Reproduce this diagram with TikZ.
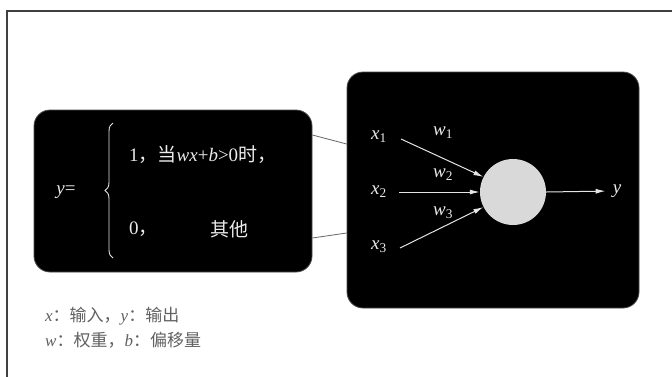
\documentclass[tikz,border=0pt]{standalone}
\usepackage{fontspec}
\setmainfont{Liberation Serif}
\newfontfamily\cjk{Noto Sans CJK SC}
\usetikzlibrary{arrows.meta,decorations.pathreplacing}
\tikzset{
  blackbox/.style={fill=black,draw=black!70,line width=0.8pt,rounded corners=16pt,inner sep=0pt},
  wtext/.style={text=white!92!black,font=\fontsize{19}{22}\selectfont,inner sep=1pt},
  sig/.style={draw=white!90!black,line width=1pt,-{Latex[length=10pt,width=5pt]}},
  link/.style={draw=black!60,line width=0.8pt},
  note/.style={text=black!62,font=\fontsize{17}{20}\selectfont,anchor=west,inner sep=0pt}
}
\begin{document}
\begin{tikzpicture}[x=1pt,y=-1pt]
\useasboundingbox (0,0) rectangle (672,376);
\clip (0,0) rectangle (672,376);
\fill[white] (0,0) rectangle (672,376);
\draw[line width=2pt,black!75] (7,11) rectangle (690,400);
% boxes
\node[blackbox,minimum width=278pt,minimum height=162pt] (lbox) at (173,191) {};
\node[blackbox,minimum width=292pt,minimum height=236pt] (rbox) at (493,190) {};
% links
\draw[link] (lbox.east |- 0,135) -- (rbox.west |- 0,144);
\draw[link] (lbox.east |- 0,238) -- (rbox.west |- 0,233);
% left box content
\node[wtext] (yeq) at (66,192) {\textit{y}=};
\draw[white!90!black,line width=0.9pt,decorate,decoration={brace,amplitude=8pt,aspect=0.5}] (113,258) -- (113,123);
\node[wtext,anchor=west] (c1) at (128,155) {1{\cjk ，当}\textit{wx}+\textit{b}>0{\cjk 时，}};
\node[wtext,anchor=west] (c0) at (128,229) {0{\cjk ，}};
\node[wtext] (oth) at (229,229) {\cjk 其他};
% right box content
\node[wtext] (x1) at (379,137) {\textit{x}\textsubscript{1}};
\node[wtext] (x2) at (379,192) {\textit{x}\textsubscript{2}};
\node[wtext] (x3) at (379,247) {\textit{x}\textsubscript{3}};
\node[circle,fill=black!15,draw=none,minimum size=66pt,inner sep=0pt] (neu) at (513,192) {};
\node[wtext] (w1) at (443,133) {\textit{w}\textsubscript{1}};
\node[wtext] (w2) at (443,175) {\textit{w}\textsubscript{2}};
\node[wtext] (w3) at (443,213) {\textit{w}\textsubscript{3}};
\node[wtext] (yo) at (617,191) {\textit{y}};
\coordinate (s1) at (401,139);
\coordinate (s2) at (399,192);
\coordinate (s3) at (400,248);
\draw[sig] (s1) -- (neu.153);
\draw[sig] (s2) -- (neu.west);
\draw[sig] (s3) -- (neu.207);
\draw[sig,shorten >=6pt] (neu.east) -- (yo.west);
% notes
\node[note] (n1) at (45,316) {\textit{x}{\cjk ：输入，}\textit{y}{\cjk ：输出}};
\node[note] (n2) at (45,340) {\textit{w}{\cjk ：权重，}\textit{b}{\cjk ：偏移量}};
\end{tikzpicture}
\end{document}
